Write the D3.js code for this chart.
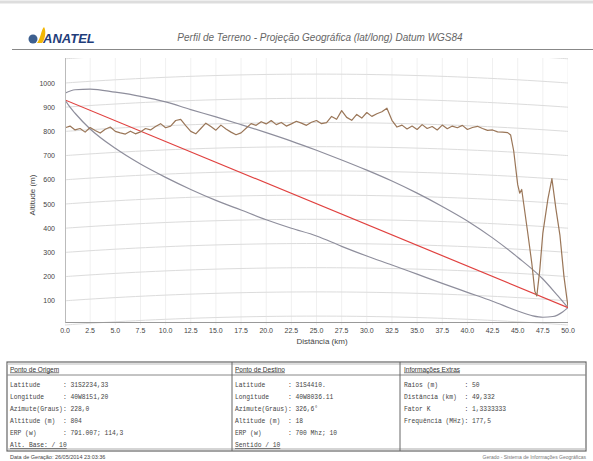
<!DOCTYPE html>
<html>
<head>
<meta charset="utf-8">
<script src="https://cdn.jsdelivr.net/npm/d3@7"></script>
<style>
  body { margin: 0; background: #fff; }
  svg { display: block; }
</style>
</head>
<body>
<div id="plot"></div>
<script>
// Tick labels
const xTicks = [0, 2.5, 5, 7.5, 10, 12.5, 15, 17.5, 20, 22.5, 25, 27.5, 30, 32.5, 35, 37.5, 40, 42.5, 45, 47.5, 50];
const yTicks = [100, 200, 300, 400, 500, 600, 700, 800, 900, 1000];
const gridAlts = [0, 100, 200, 300, 400, 500, 600, 700, 800, 900, 1000, 1100];

// Terrain profile (km, m)
const terrainKm = [0, 0.5, 1, 1.5, 2, 2.5, 3, 3.5, 4, 4.5, 5, 5.5, 6, 6.5, 7, 7.5, 8, 8.5, 9, 9.5,
  10, 10.5, 11, 11.5, 12, 12.5, 13, 13.5, 14, 14.5, 15, 15.5, 16, 16.5, 17, 17.5, 18, 18.5, 19, 19.5,
  20, 20.5, 21, 21.5, 22, 22.5, 23, 23.5, 24, 24.5, 25, 25.5, 26, 26.5, 27, 27.5, 28, 28.5, 29, 29.5,
  30, 30.5, 31, 31.5, 32, 32.5, 33, 33.5, 34, 34.5, 35, 35.5, 36, 36.5, 37, 37.5, 38, 38.5, 39, 39.5,
  40, 40.5, 41, 41.5, 42, 42.5, 43, 43.5, 44, 44.3, 44.6, 45, 45.2, 45.4, 45.6, 46, 46.4, 46.7, 46.9,
  47.2, 47.5, 48, 48.4, 48.8, 49.2, 49.6, 50];
const terrainAlt = [815, 822, 806, 812, 797, 816, 804, 793, 809, 818, 800, 794, 789, 801, 790, 798, 812, 806, 820, 832,
  815, 822, 845, 850, 824, 800, 790, 812, 834, 820, 805, 826, 810, 797, 786, 794, 813, 832, 825, 840,
  831, 845, 828, 837, 822, 831, 842, 834, 825, 838, 845, 832, 836, 862, 850, 886, 858, 846, 870, 855,
  878, 862, 873, 881, 896, 846, 818, 826, 810, 822, 808, 828, 812, 820, 806, 826, 811, 822, 815, 825,
  808, 816, 821, 812, 804, 806, 798, 797, 795, 785, 720, 580, 545, 560, 500, 380, 256, 140, 120,
  230, 380, 520, 605, 480, 370, 200, 75];

// Line of sight
const losKm = [0, 50];
const losAlt = [930, 72];

// Upper and lower envelope (gray)
const upperKm = [0, 1, 2.5, 5, 7.5, 10, 12.5, 15, 17.5, 20, 22.5, 25, 27.5, 30, 32.5, 35, 37.5, 40, 42.5, 45, 47.5, 49, 50];
const upperAlt = [958, 972, 975, 962, 945, 922, 890, 860, 828, 795, 760, 722, 682, 640, 595, 545, 490, 430, 360, 280, 190, 120, 72];
const lowerKm = [0, 0.5, 1, 2.5, 5, 7.5, 10, 12.5, 15, 17.5, 20, 22.5, 25, 27.5, 30, 32.5, 35, 37.5, 40, 42.5, 45, 46.5, 47.5, 48.5, 49.5, 50];
const lowerAlt = [930, 900, 875, 810, 730, 665, 610, 560, 515, 475, 435, 400, 368, 325, 285, 248, 210, 172, 135, 98, 58, 38, 32, 35, 55, 72];

// Info tables
const origemRows = ["Latitude      : 31S2234,33", "Longitude     : 40W8151,20", "Azimute(Graus): 228,0",
  "Altitude (m)  : 804", "ERP (w)       : 791.007; 114,3"];
const destinoRows = ["Latitude      : 31S4410.", "Longitude     : 40W8036.11", "Azimute(Graus): 326,6°",
  "Altitude (m)  : 18", "ERP (w)       : 700 Mhz; 10"];
const extrasRows = ["Raios (m)       : 50", "Distância (km)  : 49,332", "Fator K         : 1,3333333",
  "Frequência (MHz): 177,5"];

const W = 593, H = 461;
const svg = d3.select("#plot").append("svg")
  .attr("width", W).attr("height", H)
  .style("font-family", "'Liberation Sans', Arial, sans-serif");

// top border and header
svg.append("line").attr("x1", 0).attr("x2", W).attr("y1", 2).attr("y2", 2)
  .attr("stroke", "#ddd").attr("stroke-width", 3);

// logo
svg.append("circle").attr("cx", 33).attr("cy", 39).attr("r", 4.5).attr("fill", "#3d5f8f");
svg.append("path").attr("d", "M37,43 C41,38 41,30 44,27 C46,30 46,38 42,43 Z").attr("fill", "#f2b705");
svg.append("text").attr("x", 43).attr("y", 43)
  .style("font-size", "13px").style("font-weight", "bold").style("font-style", "italic")
  .attr("fill", "#1f3d7a").text("ANATEL");

svg.append("text").attr("x", 320).attr("y", 41).attr("text-anchor", "middle")
  .style("font-size", "10px").style("font-style", "italic").attr("fill", "#666")
  .text("Perfil de Terreno - Projeção Geográfica (lat/long) Datum WGS84");

svg.append("line").attr("x1", 12).attr("x2", W).attr("y1", 49.5).attr("y2", 49.5)
  .attr("stroke", "#888").attr("stroke-width", 1);

// Scales
const x = d3.scaleLinear().domain([0, 50]).range([65, 568]);
const y = d3.scaleLinear().domain([0, 1000]).range([325, 83]);

// earth curvature bulge (m), k = 4/3
function bulge(km) {
  return km * (50 - km) / (2 * (4 / 3) * 6371) * 1000;
}

svg.append("clipPath").attr("id", "clip").append("rect")
  .attr("x", 65).attr("y", 58).attr("width", 503).attr("height", 268);

const plot = svg.append("g").attr("clip-path", "url(#clip)");

// vertical grid
plot.selectAll(".vgrid").data(xTicks).enter().append("line")
  .attr("x1", d => x(d)).attr("x2", d => x(d))
  .attr("y1", 58).attr("y2", y(0))
  .attr("stroke", "#f0f0f0");

// curved horizontal grid
const samples = d3.range(0, 50.01, 1);
plot.selectAll(".hgrid").data(gridAlts).enter().append("path")
  .attr("d", v => d3.line().curve(d3.curveBasis)
    .x(k => x(k)).y(k => y(v + bulge(k)))(samples))
  .attr("fill", "none").attr("stroke", "#dcdcdc").attr("stroke-width", 1);

// axes lines
svg.append("line").attr("x1", 65).attr("x2", 568).attr("y1", y(0) - 2.5).attr("y2", y(0) - 2.5)
  .attr("stroke", "#999");
svg.append("line").attr("x1", 65.5).attr("x2", 65.5).attr("y1", 58).attr("y2", y(0) - 2.5)
  .attr("stroke", "#bbb");

// tick labels
svg.selectAll(".xl").data(xTicks).enter().append("text")
  .attr("x", d => x(d)).attr("y", 332.5).attr("text-anchor", "middle")
  .style("font-size", "7px").attr("fill", "#444").text(d => d.toFixed(1));
svg.selectAll(".yl").data(yTicks).enter().append("text")
  .attr("x", 55).attr("y", d => y(d) + 2.5).attr("text-anchor", "end")
  .style("font-size", "7px").attr("fill", "#444").text(d => d);

svg.append("text").attr("x", 322).attr("y", 343.5).attr("text-anchor", "middle")
  .style("font-size", "8px").attr("fill", "#444").text("Distância (km)");
svg.append("text").attr("transform", "translate(35,195) rotate(-90)").attr("text-anchor", "middle")
  .style("font-size", "8px").attr("fill", "#444").text("Altitude (m)");

// series
function series(kms, alts, color, width) {
  const pts = kms.map((k, i) => [k, alts[i]]);
  plot.append("path")
    .attr("d", d3.line().x(d => x(d[0])).y(d => y(d[1]))(pts))
    .attr("fill", "none").attr("stroke", color).attr("stroke-width", width)
    .attr("stroke-linejoin", "round");
}
function smoothSeries(kms, alts, color, width) {
  const pts = kms.map((k, i) => [k, alts[i]]);
  plot.append("path")
    .attr("d", d3.line().curve(d3.curveMonotoneX).x(d => x(d[0])).y(d => y(d[1]))(pts))
    .attr("fill", "none").attr("stroke", color).attr("stroke-width", width);
}

smoothSeries(upperKm, upperAlt, "#8e8e9c", 1.2);
smoothSeries(lowerKm, lowerAlt, "#8e8e9c", 1.2);
series(losKm, losAlt, "#e0413f", 1.2);
series(terrainKm, terrainAlt, "#9a7658", 1.2);

// tables
const tb = svg.append("g");
tb.append("rect").attr("x", 7).attr("y", 362).attr("width", 579).attr("height", 89)
  .attr("fill", "none").attr("stroke", "#666").attr("stroke-width", 1.2);
tb.append("line").attr("x1", 7).attr("x2", 586).attr("y1", 364).attr("y2", 364).attr("stroke", "#bbb");
tb.append("line").attr("x1", 7).attr("x2", 586).attr("y1", 375).attr("y2", 375).attr("stroke", "#888");
tb.append("line").attr("x1", 7).attr("x2", 586).attr("y1", 449).attr("y2", 449).attr("stroke", "#aaa");
[232, 400].forEach(cx => {
  tb.append("line").attr("x1", cx).attr("x2", cx).attr("y1", 362).attr("y2", 451).attr("stroke", "#666");
});

function box(x0, title, rows, last) {
  tb.append("text").attr("x", x0).attr("y", 371.5).style("font-size", "6.5px")
    .attr("fill", "#333").attr("text-decoration", "underline").text(title);
  tb.selectAll(null).data(rows).enter().append("text")
    .attr("x", x0).attr("y", (d, i) => 387 + i * 12)
    .style("font-family", "'Liberation Mono', 'DejaVu Sans Mono', monospace")
    .style("font-size", "6.3px").attr("fill", "#444").attr("xml:space", "preserve")
    .style("white-space", "pre").text(d => d);
  if (last) {
    tb.append("text").attr("x", x0).attr("y", 447)
      .style("font-family", "'Liberation Mono', monospace")
      .style("font-size", "6.3px").attr("fill", "#444").attr("text-decoration", "underline").text(last);
  }
}
box(10, "Ponto de Origem", origemRows, "Alt. Base: / 10");
box(235, "Ponto de Destino", destinoRows, "Sentido / 10");
box(404, "Informações Extras", extrasRows, null);

svg.append("text").attr("x", 10).attr("y", 459).style("font-size", "5.5px").attr("fill", "#444")
  .text("Data de Geração: 26/05/2014 23:03:36");
svg.append("text").attr("x", 586).attr("y", 459).attr("text-anchor", "end").style("font-size", "5px")
  .attr("fill", "#777").text("Gerado - Sistema de Informações Geográficas");
</script>
</body>
</html>
